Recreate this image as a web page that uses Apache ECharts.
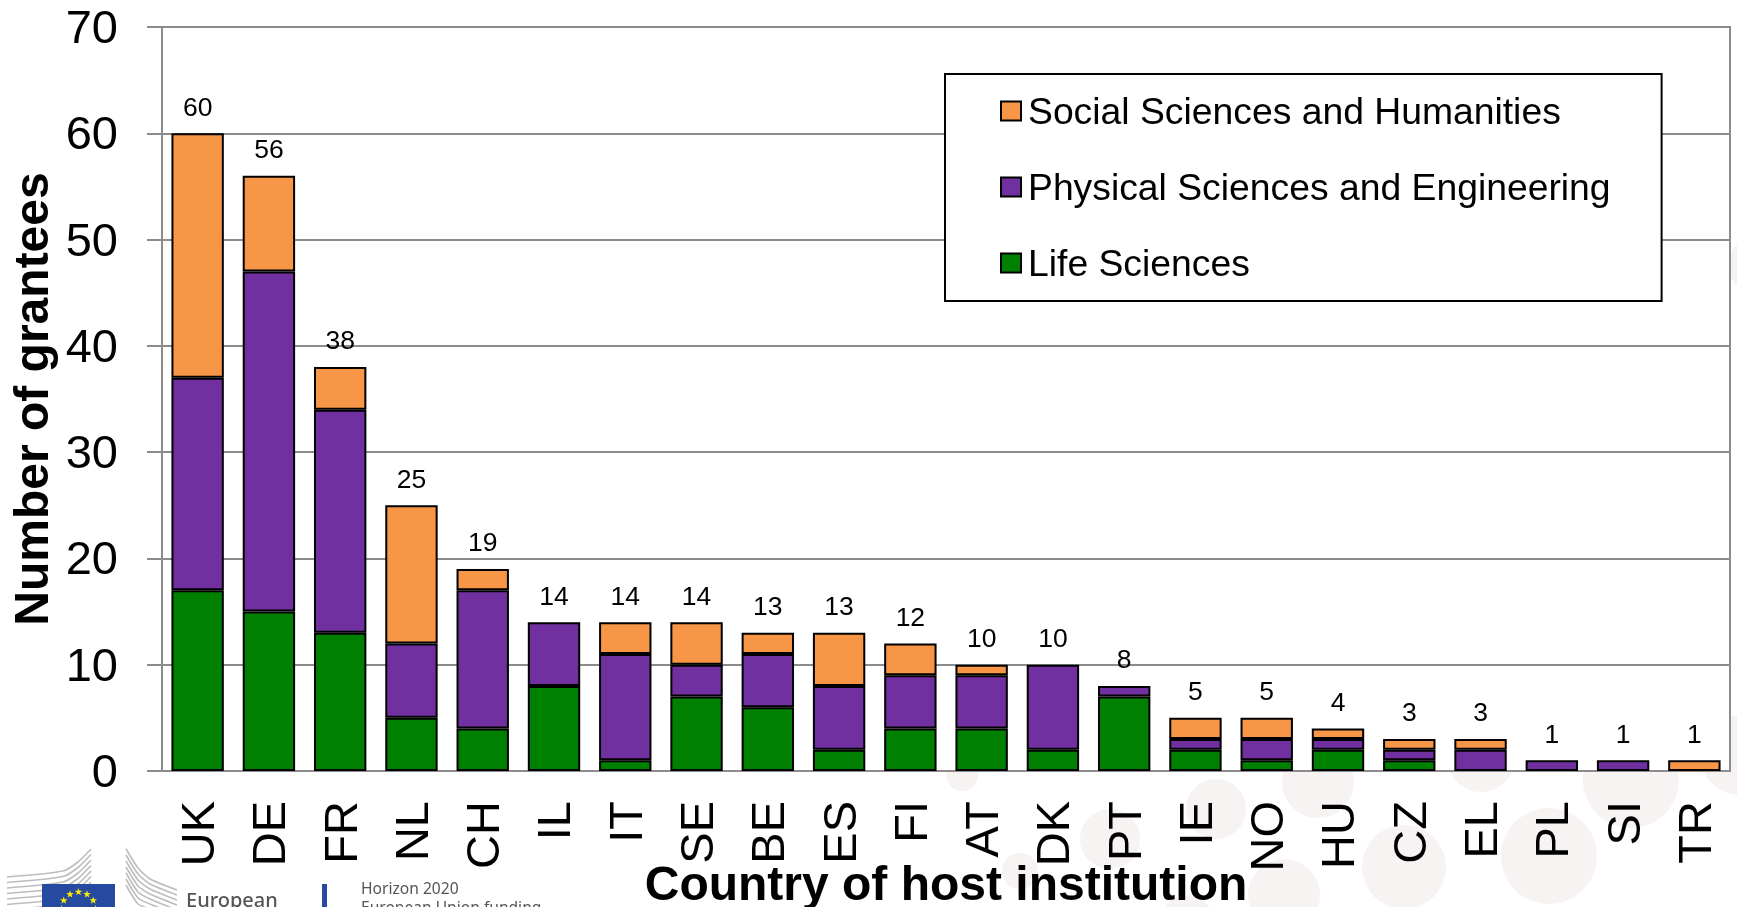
<!DOCTYPE html>
<html style="height: 100%">

<head>
	<meta charset="utf-8">
	<script src="https://cdn.jsdelivr.net/npm/echarts@6/dist/echarts.min.js"></script>
</head>

<body style="height: 100%; margin: 0; background: #fff">
	<div id="container" style="width: 1737px; height: 907px"></div>
	<script type="text/javascript">
		let countries = ['UK', 'DE', 'FR', 'NL', 'CH', 'IL', 'IT', 'SE', 'BE', 'ES', 'FI', 'AT', 'DK', 'PT', 'IE', 'NO', 'HU', 'CZ', 'EL', 'PL', 'SI', 'TR'];
		let lifeSciences = [17, 15, 13, 5, 4, 8, 1, 7, 6, 2, 4, 4, 2, 7, 2, 1, 2, 1, 0, 0, 0, 0];
		let physicalSciences = [20, 32, 21, 7, 13, 6, 10, 3, 5, 6, 5, 5, 8, 1, 1, 2, 1, 1, 2, 1, 1, 0];
		let socialSciences = [23, 9, 4, 13, 2, 0, 3, 4, 2, 5, 3, 1, 0, 0, 2, 2, 1, 1, 1, 0, 0, 1];
		let totals = [60, 56, 38, 25, 19, 14, 14, 14, 13, 13, 12, 10, 10, 8, 5, 5, 4, 3, 3, 1, 1, 1];

		const FONT = '"Liberation Sans", Arial, sans-serif';
		const GREY = '#8c8c8c';

		let dom = document.getElementById('container');
		let myChart = echarts.init(dom);

		// zero height segments would leave a black line, so they are dropped
		function noZero(values) {
			return values.map(function (v) { return v === 0 ? null : v; });
		}

		function barSeries(name, values, color) {
			return {
				name: name,
				type: 'bar',
				stack: 'total',
				barWidth: '73.5%',
				itemStyle: { color: color, borderColor: '#000', borderWidth: 2 },
				data: noZero(values)
			};
		}

		// pale discs of the slide background, only visible outside the plot
		function backgroundDiscs() {
			let discs = [[962, 775, 16], [1216, 809, 30], [1318, 782, 36], [1110, 839, 30], [1404, 867, 42],
				[1549, 856, 48], [1481, 758, 34], [1631, 780, 48], [1020, 871, 18], [1284, 895, 36],
				[1187, 925, 29], [1740, 755, 40], [1752, 265, 25]];
			return discs.map(function (d) {
				return { type: 'circle', z: -10, silent: true, shape: { cx: d[0], cy: d[1], r: d[2] }, style: { fill: '#f6f3f2' } };
			});
		}

		function logoLines() {
			let lines = [];
			for (let i = 0; i < 7; i++) {
				lines.push({
					type: 'polyline', z: 1, silent: true,
					shape: { points: [[7, 877 + 5.5 * i], [63, 871 + 5.5 * i], [78, 862 + 5.5 * i], [91, 849 + 5.5 * i]], smooth: 0.2 },
					style: { stroke: '#bdbdbd', lineWidth: 1.6, fill: null }
				});
				lines.push({
					type: 'polyline', z: 1, silent: true,
					shape: { points: [[126, 849 + 6 * i], [138, 868 + 6 * i], [150, 879 + 5 * i], [177, 890 + 5 * i]], smooth: 0.2 },
					style: { stroke: '#bdbdbd', lineWidth: 1.6, fill: null }
				});
			}
			return lines;
		}

		function flagStars() {
			let stars = [];
			for (let k = 0; k < 12; k++) {
				let a = k * Math.PI / 6;
				let cx = 78.5 + 17 * Math.sin(a);
				let cy = 909 - 17 * Math.cos(a);
				let pts = [];
				for (let j = 0; j < 10; j++) {
					let r = j % 2 ? 1.6 : 4;
					let b = j * Math.PI / 5;
					pts.push([cx + r * Math.sin(b), cy - r * Math.cos(b)]);
				}
				stars.push({ type: 'polygon', z: 3, silent: true, shape: { points: pts }, style: { fill: '#ffed00' } });
			}
			return stars;
		}

		function logoParts() {
			let textStyle = { fill: '#555', fontFamily: '"Noto Sans", sans-serif', verticalAlign: 'middle' };
			return [
				{ type: 'rect', z: 2, silent: true, shape: { x: 42, y: 884, width: 73, height: 23 }, style: { fill: '#264a9f' } },
				{ type: 'rect', z: 2, silent: true, shape: { x: 322, y: 884, width: 5, height: 23 }, style: { fill: '#264a9f' } },
				{ type: 'text', z: 2, silent: true, x: 186, y: 901, style: Object.assign({ text: 'European', fontSize: 20, fontWeight: 500 }, textStyle) },
				{ type: 'text', z: 2, silent: true, x: 361, y: 890, style: Object.assign({ text: 'Horizon 2020', fontSize: 15.6 }, textStyle) },
				{ type: 'text', z: 2, silent: true, x: 361, y: 909, style: Object.assign({ text: 'European Union funding', fontSize: 15.6 }, textStyle) }
			];
		}

		let option = {
			animation: false,
			backgroundColor: '#fff',
			textStyle: { fontFamily: FONT },
			graphic: { elements: backgroundDiscs().concat(logoLines(), logoParts(), flagStars()) },
			grid: {
				show: true,
				outerBoundsMode: 'none',
				left: 162,
				right: 7,
				top: 27,
				bottom: 136,
				backgroundColor: '#fff',
				borderColor: GREY,
				borderWidth: 2
			},
			legend: {
				orient: 'vertical',
				left: 945,
				top: 74,
				padding: [16, 51, 17, 55],
				backgroundColor: '#fff',
				borderColor: '#000',
				borderWidth: 2,
				icon: 'rect',
				itemWidth: 20,
				itemHeight: 19,
				itemGap: 34,
				selectedMode: false,
				formatter: '{a|{name}}',
				textStyle: {
					rich: { a: { color: '#000', fontSize: 37.3, fontFamily: FONT, lineHeight: 40, padding: [5, 0, 0, 2] } }
				},
				data: ['Social Sciences and Humanities', 'Physical Sciences and Engineering', 'Life Sciences']
			},
			xAxis: {
				type: 'category',
				data: countries,
				name: 'Country of host institution',
				nameLocation: 'middle',
				nameGap: 92,
				nameMoveOverlap: false,
				nameTextStyle: { color: '#000', fontSize: 48, fontWeight: 'bold', fontFamily: FONT },
				axisLine: { lineStyle: { color: GREY, width: 2 } },
				axisTick: { length: 14, lineStyle: { color: GREY, width: 2 } },
				axisLabel: {
					interval: 0, rotate: 90, margin: 30,
					formatter: '{a|{value}}',
					rich: { a: { color: '#000', fontSize: 47, fontFamily: FONT, padding: [7, 0, 0, 0] } }
				}
			},
			yAxis: {
				type: 'value',
				min: 0,
				max: 70,
				interval: 10,
				name: 'Number of grantees',
				nameLocation: 'middle',
				nameGap: 103,
				nameMoveOverlap: false,
				nameTextStyle: { color: '#000', fontSize: 48, fontWeight: 'bold', fontFamily: FONT },
				axisLine: { show: true, lineStyle: { color: GREY, width: 2 } },
				axisTick: { show: true, length: 15, lineStyle: { color: GREY, width: 2 } },
				axisLabel: {
					margin: 44,
					formatter: '{a|{value}}',
					rich: { a: { color: '#000', fontSize: 47, fontFamily: FONT, padding: [6, 0, 0, 0] } }
				},
				splitLine: { lineStyle: { color: GREY, width: 2 } }
			},
			series: [
				barSeries('Life Sciences', lifeSciences, '#008000'),
				barSeries('Physical Sciences and Engineering', physicalSciences, '#7030a0'),
				barSeries('Social Sciences and Humanities', socialSciences, '#f79646'),
				{
					name: 'Total',
					type: 'line',
					symbol: 'circle',
					symbolSize: 1,
					showAllSymbol: true,
					silent: true,
					z: 5,
					itemStyle: { color: 'transparent' },
					lineStyle: { width: 0 },
					label: { show: true, position: 'top', distance: 11, color: '#000', fontSize: 26.5, fontFamily: FONT },
					data: totals
				}
			]
		};

		myChart.setOption(option);
	</script>
</body>

</html>
